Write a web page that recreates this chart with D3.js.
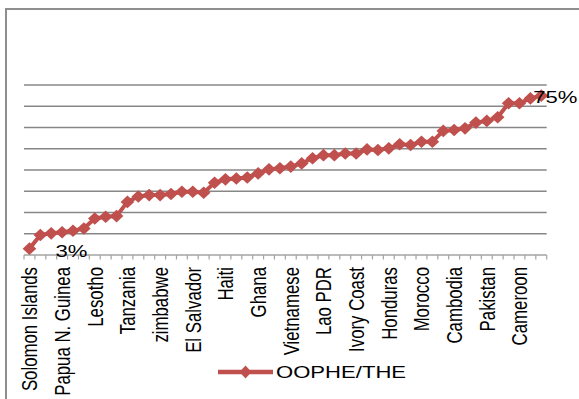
<!DOCTYPE html>
<html>
<head>
<meta charset="utf-8">
<script src="https://cdn.jsdelivr.net/npm/d3@7"></script>
<style>
  html, body { margin: 0; padding: 0; background: #fff; }
  svg { display: block; }
  text { font-family: "Liberation Sans", Arial, sans-serif; fill: #000; }
</style>
</head>
<body>
<svg id="chart" width="579" height="399"></svg>
<script>
// Out-of-pocket health expenditure as a share of total health expenditure
const seriesName = "OOPHE/THE";

// Every third country is named on the axis
const tickLabels = [
  "Solomon Islands", "Papua N. Guinea", "Lesotho", "Tanzania", "zimbabwe",
  "El Salvador", "Haiti", "Ghana", "Vietnamese", "Lao PDR", "Ivory Coast",
  "Honduras", "Morocco", "Cambodia", "Pakistan", "Cameroon"
];
const labelEvery = 3;

// OOPHE/THE ratio for each of the 48 countries, sorted ascending
const values = [
  0.03, 0.094, 0.102, 0.107, 0.114, 0.125, 0.172, 0.18, 0.183, 0.25,
  0.275, 0.282, 0.282, 0.287, 0.298, 0.298, 0.293, 0.34, 0.356, 0.36,
  0.365, 0.384, 0.403, 0.408, 0.416, 0.431, 0.455, 0.47, 0.47, 0.478,
  0.478, 0.497, 0.494, 0.502, 0.521, 0.518, 0.533, 0.533, 0.584, 0.588,
  0.596, 0.623, 0.631, 0.648, 0.714, 0.714, 0.737, 0.75
];

// Gridline levels
const gridTicks = [0.1, 0.2, 0.3, 0.4, 0.5, 0.6, 0.7, 0.8];

const red = "#C0504D";
const gridColor = "#878787";
const stretch = 1.3; // horizontal widening applied to all text

const svg = d3.select("#chart");

// Outer chart frame (top and left edges visible)
svg.append("path")
  .attr("d", "M6,400 L6,9 L580,9")
  .attr("fill", "none")
  .attr("stroke", "#8e8e8e")
  .attr("stroke-width", 2);

const indices = d3.range(values.length);
const x = d3.scaleBand().domain(indices).range([24, 546.7]).padding(0);
const y = d3.scaleLinear().domain([0, 0.8]).range([255, 85]);

// Horizontal gridlines
svg.append("g")
  .selectAll("line")
  .data(gridTicks)
  .join("line")
  .attr("x1", x.range()[0])
  .attr("x2", x.range()[1])
  .attr("y1", d => y(d))
  .attr("y2", d => y(d))
  .attr("stroke", gridColor)
  .attr("stroke-width", 1.4);

// Category axis with tick marks between categories
const axisG = svg.append("g").attr("transform", `translate(0,${y(0)})`);
axisG.append("line")
  .attr("x1", x.range()[0]).attr("x2", x.range()[1])
  .attr("y1", 0).attr("y2", 0)
  .attr("stroke", "#a3a3a3").attr("stroke-width", 1.4);
const boundaries = indices.map(i => x(i)).concat([x.range()[1]]);
axisG.selectAll("line.tick")
  .data(boundaries)
  .join("line")
  .attr("class", "tick")
  .attr("x1", d => d).attr("x2", d => d)
  .attr("y1", 0).attr("y2", 4.5)
  .attr("stroke", "#a3a3a3").attr("stroke-width", 1.2);

// Rotated country labels
svg.append("g")
  .selectAll("text")
  .data(tickLabels)
  .join("text")
  .attr("transform", (d, k) => {
    const cx = x(k * labelEvery) + x.bandwidth() / 2;
    return `translate(${cx},267) scale(${stretch},1) rotate(-90)`;
  })
  .attr("text-anchor", "end")
  .attr("dy", "0.36em")
  .attr("font-size", 16.8)
  .text(d => d);

// Series line and diamond markers
const cx = i => x(i) + x.bandwidth() / 2;
const line = d3.line().x((d, i) => cx(i)).y(d => y(d));
svg.append("path")
  .datum(values)
  .attr("d", line)
  .attr("fill", "none")
  .attr("stroke", red)
  .attr("stroke-width", 4);

const diamond = (w, h) => `M0,${-h} L${w},0 L0,${h} L${-w},0 Z`;
svg.append("g")
  .selectAll("path")
  .data(values)
  .join("path")
  .attr("transform", (d, i) => `translate(${cx(i)},${y(d)})`)
  .attr("d", diamond(6.8, 6.3))
  .attr("fill", red);

// Value labels on the first and last points
const fmt = d3.format(".0%");
const ends = [
  { i: 0, dx: 26, dy: 8.5 },
  { i: values.length - 1, dx: -8, dy: 7 }
];
svg.append("g")
  .selectAll("text")
  .data(ends)
  .join("text")
  .attr("transform", d => `translate(${cx(d.i) + d.dx},${y(values[d.i]) + d.dy}) scale(${stretch},1)`)
  .attr("font-size", 17)
  .text(d => fmt(values[d.i]));

// Legend
const lg = svg.append("g").attr("transform", "translate(218,372)");
lg.append("line")
  .attr("x1", 0).attr("x2", 55).attr("y1", 0).attr("y2", 0)
  .attr("stroke", red).attr("stroke-width", 4.5);
lg.append("path")
  .attr("transform", "translate(27.5,0)")
  .attr("d", diamond(6, 6.5))
  .attr("fill", red);
lg.append("text")
  .attr("transform", `translate(58,6) scale(${stretch},1)`)
  .attr("font-size", 17)
  .text(seriesName);
</script>
</body>
</html>
